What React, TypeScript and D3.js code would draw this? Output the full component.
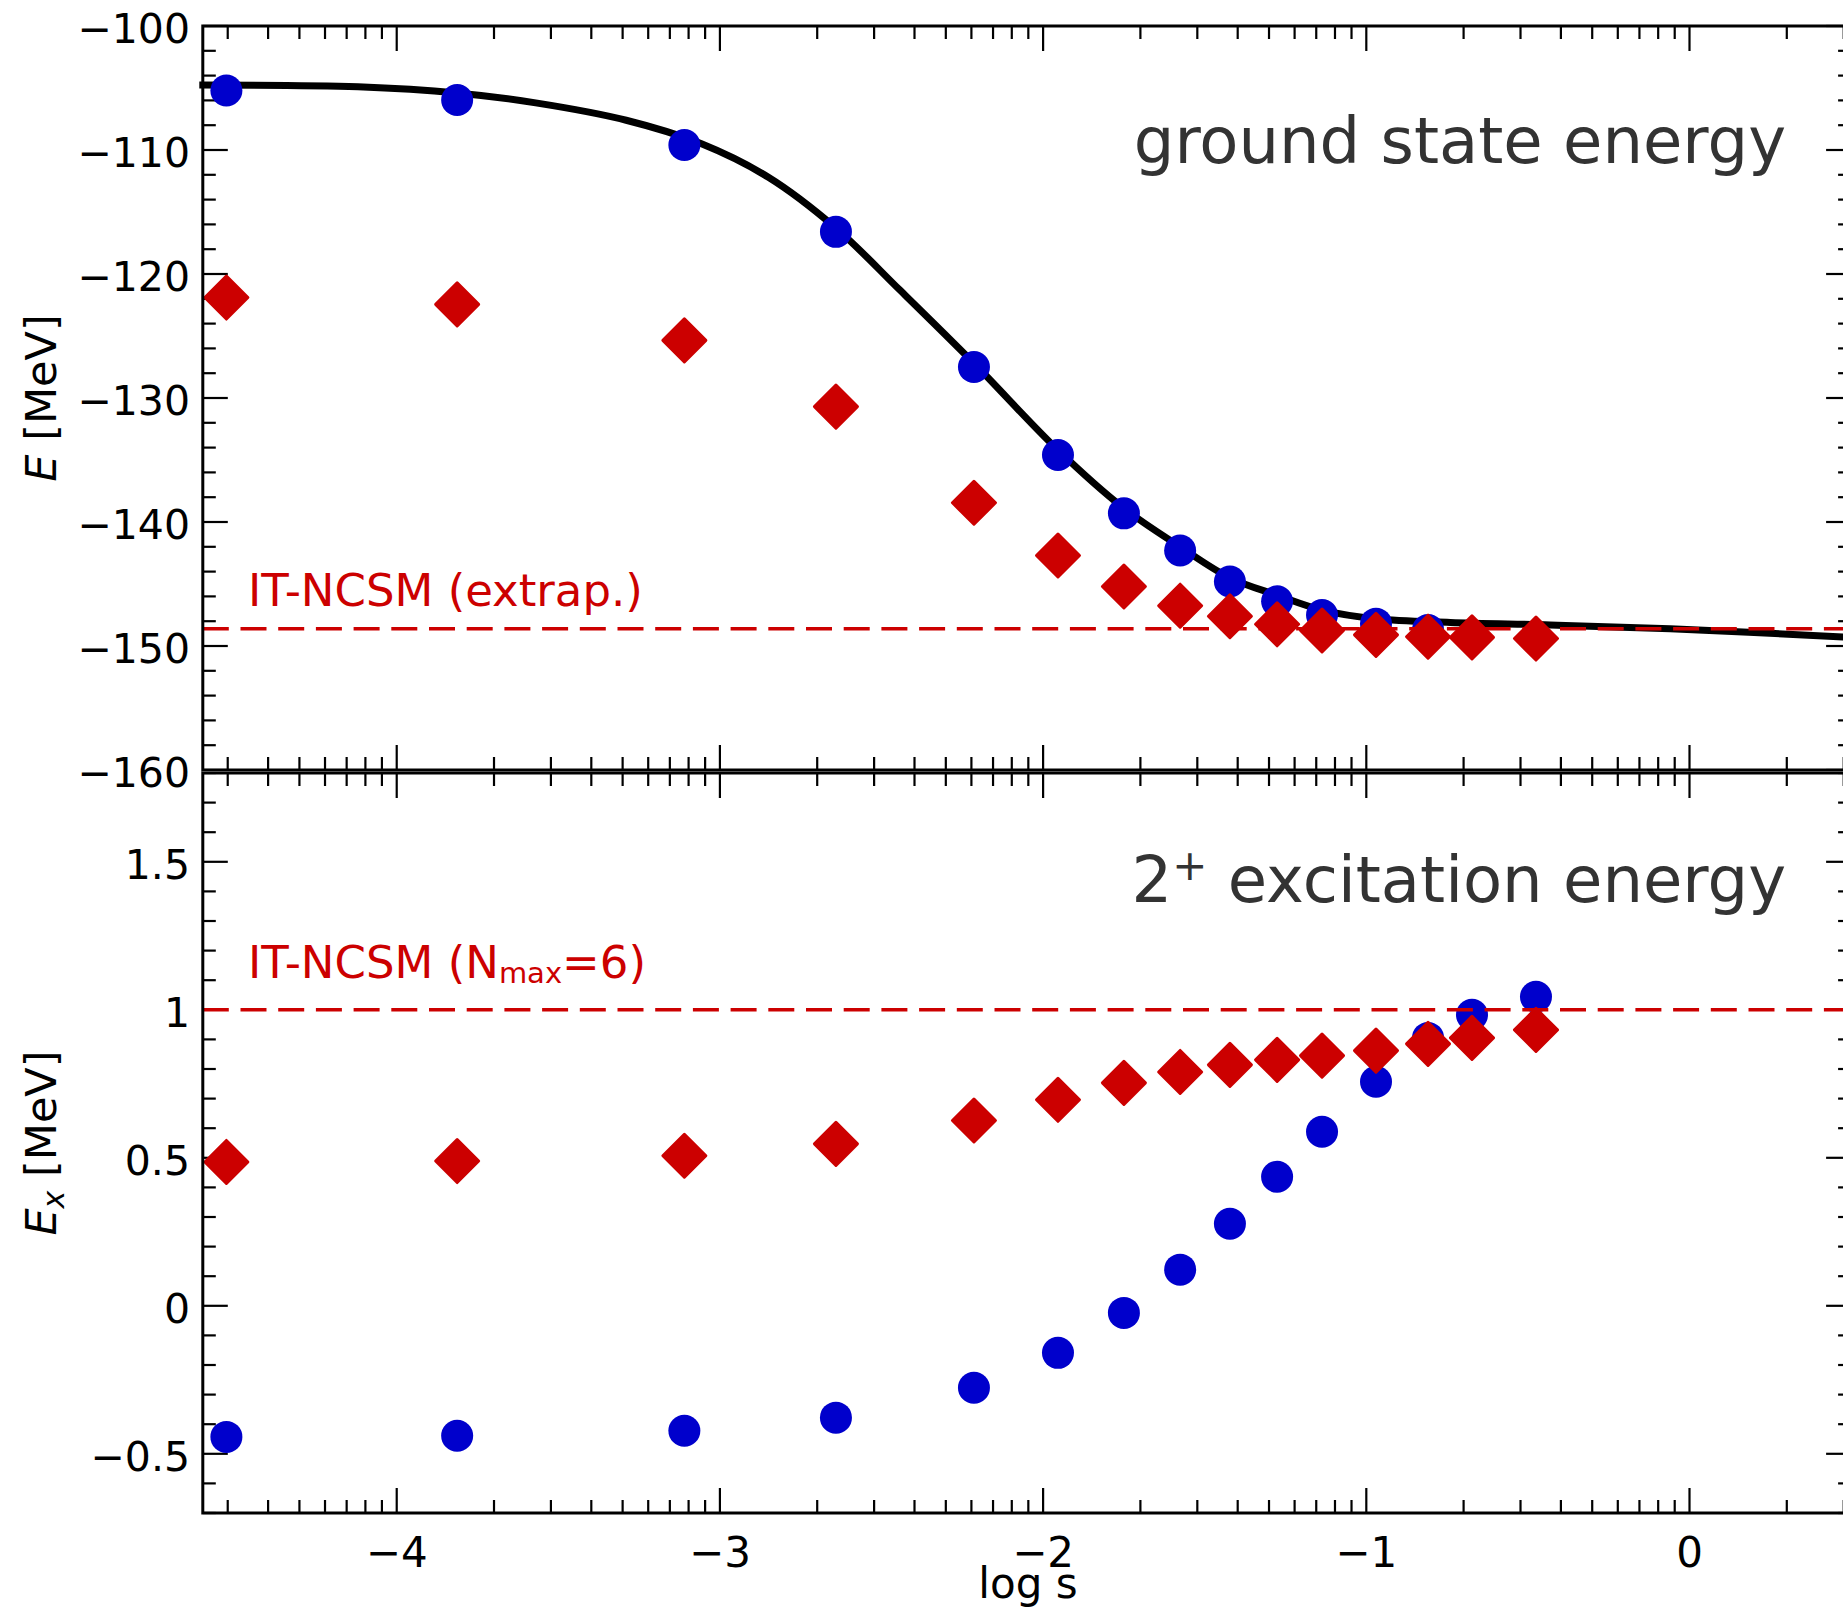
import React from 'react';
import * as d3 from 'd3';

const W = 1843;
const H = 1610;

// flow parameter values (log10 s) of the computed points
const LOG_S = [-4.527, -3.813, -3.11, -2.641, -2.214, -1.954, -1.75, -1.576, -1.422, -1.276, -1.137, -0.97, -0.809, -0.673, -0.475];
// ground state energy [MeV]
const GS_SRG = [-105.2, -105.97, -109.6, -116.6, -127.5, -134.6, -139.3, -142.3, -144.8, -146.4, -147.5, -148.2, -148.7, -149.3, -149.4];
const GS_NCSM = [-121.9, -122.45, -125.35, -130.7, -138.45, -142.7, -145.2, -146.75, -147.6, -148.25, -148.75, -149.1, -149.25, -149.3, -149.4];
// fit curve samples (log10 s, E)
const FIT_LOG_S = [-4.6, -4.12, -3.813, -3.57, -3.29, -3.057, -2.85, -2.641, -2.443, -2.214, -1.954, -1.75, -1.576, -1.422, -1.276, -1.137, -0.97, -0.74, -0.431, -0.06, 0.5];
const FIT_E = [-104.76, -104.9, -105.4, -106.2, -107.6, -109.5, -112.2, -116.3, -121.3, -127.2, -134.2, -138.9, -142.0, -144.5, -145.9, -147.1, -147.8, -148.1, -148.3, -148.6, -149.3];
// 2+ excitation energy [MeV]
const EX_SRG = [-0.443, -0.439, -0.422, -0.378, -0.277, -0.159, -0.024, 0.122, 0.277, 0.436, 0.588, 0.757, 0.905, 0.983, 1.044];
const EX_NCSM = [0.486, 0.489, 0.507, 0.547, 0.626, 0.696, 0.753, 0.79, 0.814, 0.831, 0.845, 0.862, 0.885, 0.905, 0.932];
// reference lines
const GS_EXTRAP = -148.6;
const EX_NMAX6 = 1.0;

const X_MAJOR = [-4, -3, -2, -1, 0];
const X_LABELS = ['\u22124', '\u22123', '\u22122', '\u22121', '0'];
const TOP_TICKS = [-160, -150, -140, -130, -120, -110, -100];
const TOP_LABELS = ['\u2212160', '\u2212150', '\u2212140', '\u2212130', '\u2212120', '\u2212110', '\u2212100'];
const BOT_TICKS = [-0.5, 0, 0.5, 1, 1.5];
const BOT_LABELS = ['\u22120.5', '0', '0.5', '1', '1.5'];

const RED = '#cc0000';
const BLUE = '#0000cc';
const FONT = '"DejaVu Sans", Verdana, sans-serif';

const X0 = 202.8;
const X1 = 1851.1;
const TOP_Y0 = 26;
const TOP_Y1 = 770;
const BOT_Y0 = 773;
const BOT_Y1 = 1513;

export default function App() {
  const x = d3.scaleLog().domain([Math.pow(10, -4.6), Math.pow(10, 0.5)]).range([X0, X1]);
  const yTop = d3.scaleLinear().domain([-160, -100]).range([TOP_Y1, TOP_Y0]);
  const yBot = d3.scaleLinear().domain([-0.7, 1.8]).range([BOT_Y1, BOT_Y0]);
  const sx = (l: number) => x(Math.pow(10, l));

  // x ticks
  const xTicks: { v: number; major: boolean }[] = [];
  for (let n = -5; n <= 0; n++) {
    for (let k = 1; k <= 9; k++) {
      const v = k * Math.pow(10, n);
      const lv = Math.log10(v);
      if (lv >= -4.6 && lv <= 0.5) xTicks.push({ v, major: k === 1 });
    }
  }
  const topMinor = d3.range(-160, -99.9, 2);
  const botMinor = d3.range(-7, 18.1, 1).map((d) => d / 10);

  const MAJ = 25;
  const MIN = 13;

  const fitLine = d3
    .line<number>()
    .x((_, i) => sx(FIT_LOG_S[i]))
    .y((d) => yTop(d))
    .curve(d3.curveCatmullRom.alpha(0.5));

  const diamond = (cx: number, cy: number) => {
    const h = 21.5;
    return `M${cx},${cy - h}L${cx + h},${cy}L${cx},${cy + h}L${cx - h},${cy}Z`;
  };

  const xTickLines = (y: number, dir: number) =>
    xTicks.map((t, i) => {
      const px = x(t.v);
      const len = t.major ? MAJ : MIN;
      return <line key={i} x1={px} x2={px} y1={y} y2={y + dir * len} stroke="#000" strokeWidth={2.2} />;
    });

  const yTickLines = (vals: number[], scale: (v: number) => number, majorSet: number[]) =>
    vals.map((v, i) => {
      const py = scale(v);
      const major = majorSet.some((m) => Math.abs(m - v) < 1e-6);
      const len = major ? MAJ : MIN;
      return (
        <g key={i}>
          <line x1={X0} x2={X0 + len} y1={py} y2={py} stroke="#000" strokeWidth={2.2} />
          <line x1={X1} x2={X1 - len} y1={py} y2={py} stroke="#000" strokeWidth={2.2} />
        </g>
      );
    });

  return (
    <svg
      width={W}
      height={H}
      viewBox={`0 0 ${W} ${H}`}
      style={{ position: 'absolute', left: 0, top: 0, display: 'block', background: '#fff' }}
      fontFamily={FONT}
    >
      <defs>
        <clipPath id="clipTop">
          <rect x={X0 - 4} y={TOP_Y0} width={X1 - X0 + 4} height={TOP_Y1 - TOP_Y0} />
        </clipPath>
        <clipPath id="clipBot">
          <rect x={X0} y={BOT_Y0} width={X1 - X0} height={BOT_Y1 - BOT_Y0} />
        </clipPath>
      </defs>
      <rect x={0} y={0} width={W} height={H} fill="#fff" />

      {/* ticks */}
      {xTickLines(TOP_Y0, 1)}
      {xTickLines(TOP_Y1, -1)}
      {xTickLines(BOT_Y0, 1)}
      {xTickLines(BOT_Y1, -1)}
      {yTickLines(topMinor, yTop, TOP_TICKS)}
      {yTickLines(botMinor, yBot, BOT_TICKS)}

      {/* top panel data */}
      <g clipPath="url(#clipTop)">
        <path d={fitLine(FIT_E) || ''} fill="none" stroke="#000" strokeWidth={7} strokeLinecap="square" />
        {GS_SRG.map((v, i) => (
          <circle key={i} cx={sx(LOG_S[i])} cy={yTop(v)} r={16} fill={BLUE} />
        ))}
        <line x1={X0} x2={X1} y1={yTop(GS_EXTRAP)} y2={yTop(GS_EXTRAP)} stroke={RED} strokeWidth={3.5} strokeDasharray="26,11.7" />
        {GS_NCSM.map((v, i) => (
          <path key={i} d={diamond(sx(LOG_S[i]), yTop(v))} fill={RED} stroke={RED} strokeWidth={3} strokeLinejoin="round" />
        ))}
      </g>

      {/* bottom panel data */}
      <g clipPath="url(#clipBot)">
        {EX_SRG.map((v, i) => (
          <circle key={i} cx={sx(LOG_S[i])} cy={yBot(v)} r={16} fill={BLUE} />
        ))}
        <line x1={X0} x2={X1} y1={yBot(EX_NMAX6)} y2={yBot(EX_NMAX6)} stroke={RED} strokeWidth={3.5} strokeDasharray="26,11.7" />
        {EX_NCSM.map((v, i) => (
          <path key={i} d={diamond(sx(LOG_S[i]), yBot(v))} fill={RED} stroke={RED} strokeWidth={3} strokeLinejoin="round" />
        ))}
      </g>

      {/* frames */}
      <rect x={X0} y={TOP_Y0} width={X1 - X0} height={TOP_Y1 - TOP_Y0} fill="none" stroke="#000" strokeWidth={3} />
      <rect x={X0} y={BOT_Y0} width={X1 - X0} height={BOT_Y1 - BOT_Y0} fill="none" stroke="#000" strokeWidth={3} />
      <line x1={X0} x2={X1} y1={(TOP_Y1 + BOT_Y0) / 2} y2={(TOP_Y1 + BOT_Y0) / 2} stroke="#555" strokeWidth={1} />

      {/* y tick labels */}
      {TOP_TICKS.map((v, i) => (
        <text key={i} x={190} y={yTop(v) + 17} textAnchor="end" fontSize={41} fill="#000">
          {TOP_LABELS[i]}
        </text>
      ))}
      {BOT_TICKS.map((v, i) => (
        <text key={i} x={190} y={yBot(v) + 17} textAnchor="end" fontSize={41} fill="#000">
          {BOT_LABELS[i]}
        </text>
      ))}

      {/* x tick labels */}
      {X_MAJOR.map((v, i) => (
        <text key={i} x={sx(v)} y={1567} textAnchor="middle" fontSize={42} fill="#000">
          {X_LABELS[i]}
        </text>
      ))}
      <text x={1028} y={1598} textAnchor="middle" fontSize={42} fill="#000">
        log s
      </text>

      {/* axis titles */}
      <text transform={`translate(56,${(TOP_Y0 + TOP_Y1) / 2}) rotate(-90)`} textAnchor="middle" fontSize={43} fill="#000">
        <tspan fontStyle="italic">E</tspan>
        <tspan> [MeV]</tspan>
      </text>
      <text transform={`translate(56,${(BOT_Y0 + BOT_Y1) / 2}) rotate(-90)`} textAnchor="middle" fontSize={43} fill="#000">
        <tspan fontStyle="italic">E</tspan>
        <tspan fontStyle="italic" fontSize={30} dy={8}>x</tspan>
        <tspan dy={-8}> [MeV]</tspan>
      </text>

      {/* annotations */}
      <text x={1786} y={163} textAnchor="end" fontSize={64} fill="#333">
        ground state energy
      </text>
      <text x={1786} y={902} textAnchor="end" fontSize={64} fill="#333">
        <tspan>2</tspan>
        <tspan fontSize={42} dy={-22}>+</tspan>
        <tspan dy={22}> excitation energy</tspan>
      </text>
      <text x={248} y={606} fontSize={45} fill={RED}>
        IT-NCSM (extrap.)
      </text>
      <text x={248} y={978} fontSize={45} fill={RED}>
        <tspan>IT-NCSM (N</tspan>
        <tspan fontSize={29} dy={5}>max</tspan>
        <tspan dy={-5}>=6)</tspan>
      </text>
    </svg>
  );
}
